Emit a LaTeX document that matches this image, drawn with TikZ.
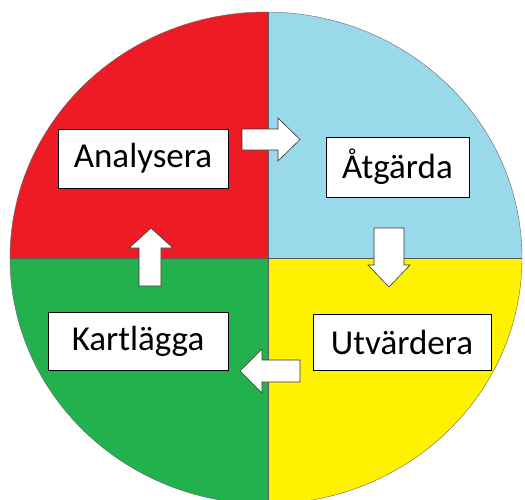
\documentclass[tikz,border=0pt]{standalone}
\usepackage{fontspec}
\setmainfont{Carlito}
\definecolor{quadred}{HTML}{ED1C24}
\definecolor{quadblue}{HTML}{99D9EA}
\definecolor{quadyellow}{HTML}{FFF200}
\definecolor{quadgreen}{HTML}{22B14C}

\begin{document}
\begin{tikzpicture}[x=1pt,y=-1pt,thin,
    box node/.style={draw=black,fill=white,inner sep=0pt,font=\fontsize{35}{40}\selectfont},
    block arrow/.style={draw=black!80,line width=0.6pt,fill=white,line join=miter}]
            \clip (0,0) rectangle (525,499);

            % quarters of the wheel
            \begin{scope}
            \clip (266,258) ellipse [x radius=256, y radius=246];
            \fill[quadred] (0,0) rectangle (268,258);
            \fill[quadblue] (268,0) rectangle (525,258);
            \fill[quadgreen] (0,258) rectangle (268,510);
            \fill[quadyellow] (268,258) rectangle (525,510);
            \draw[black!65] (268,0) -- (268,510);
            \draw[black!65] (0,258) -- (525,258);
            \end{scope}
            \draw[black!60] (266,258) ellipse [x radius=256, y radius=246];

            \node[box node, minimum width=170pt, minimum height=59pt] (analysera) at (143,158.5) {Analysera};
            \node[box node, minimum width=143pt, minimum height=60pt] (atgarda) at (397.5,167) {Åtgärda};
            \node[box node, minimum width=178pt, minimum height=56pt] (utvardera) at (402,342) {Utvärdera};
            \node[box node, minimum width=180pt, minimum height=58pt] (kartlagga) at (138,341) {Kartlägga};

            % block arrows
            \draw[block arrow] (242,129) -- (278,129) -- (278,118) -- (300,139.5) -- (278,161) -- (278,150) -- (242,150) -- cycle;
            \draw[block arrow] (374,228) -- (404,228) -- (404,265) -- (410,265) -- (389,287) -- (368,265) -- (374,265) -- cycle;
            \draw[block arrow] (300,360) -- (300,382) -- (262,382) -- (262,393) -- (240,371) -- (262,349) -- (262,360) -- cycle;
            \draw[block arrow] (139,286) -- (139,248) -- (129,248) -- (151,228) -- (173,248) -- (161,248) -- (161,286) -- cycle;
\end{tikzpicture}
\end{document}
